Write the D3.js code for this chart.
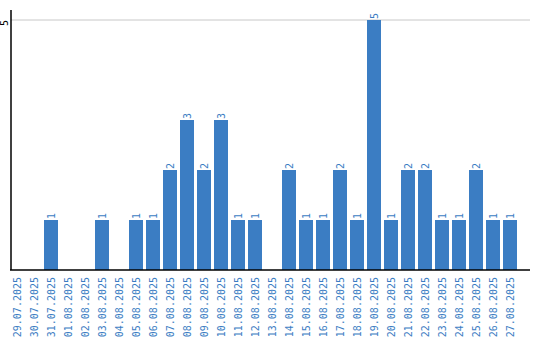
<!DOCTYPE html>
<html lang="en">
<head>
  <meta charset="UTF-8">
  <title>Chart</title>
  <script src="https://d3js.org/d3.v7.min.js"></script>
  <style>
    body { margin: 0; background: #fff; }
    text { font-family: "DejaVu Sans Mono", monospace; font-size: 10px; }
  </style>
</head>
<body>
  <div id="chart"></div>
  <script>
    const dates = [
      '29.07.2025', '30.07.2025', '31.07.2025', '01.08.2025', '02.08.2025',
      '03.08.2025', '04.08.2025', '05.08.2025', '06.08.2025', '07.08.2025',
      '08.08.2025', '09.08.2025', '10.08.2025', '11.08.2025', '12.08.2025',
      '13.08.2025', '14.08.2025', '15.08.2025', '16.08.2025', '17.08.2025',
      '18.08.2025', '19.08.2025', '20.08.2025', '21.08.2025', '22.08.2025',
      '23.08.2025', '24.08.2025', '25.08.2025', '26.08.2025', '27.08.2025'
    ];
    const counts = [0, 0, 1, 0, 0, 1, 0, 1, 1, 2, 3, 2, 3, 1, 1, 0, 2, 1, 1, 2, 1, 5, 1, 2, 2, 1, 1, 2, 1, 1];
    const yTicks = [5];

    const width = 540, height = 340;
    const blue = '#3b7dc3';

    const svg = d3.select('#chart').append('svg')
      .attr('width', width)
      .attr('height', height);

    const x = d3.scaleBand()
      .domain(dates)
      .range([8.5, 518.5])
      .paddingInner(3 / 17)
      .paddingOuter(1.5 / 17);

    const y = d3.scaleLinear()
      .domain([0, 5])
      .range([270, 20]);

    const rows = dates.map((d, i) => ({ date: d, v: counts[i] })).filter(d => d.v > 0);

    // grid lines
    svg.selectAll('.grid')
      .data(yTicks)
      .enter()
      .append('line')
      .attr('x1', 11).attr('x2', 530)
      .attr('y1', d => y(d)).attr('y2', d => y(d))
      .attr('stroke', '#c8c8c8')
      .attr('stroke-width', 1);

    // bars
    svg.selectAll('.bar')
      .data(rows)
      .enter()
      .append('rect')
      .attr('x', d => x(d.date))
      .attr('y', d => y(d.v))
      .attr('width', x.bandwidth())
      .attr('height', d => y(0) - y(d.v))
      .attr('fill', blue);

    // value labels
    svg.selectAll('.val')
      .data(rows)
      .enter()
      .append('text')
      .attr('transform', d => `translate(${x(d.date) + x.bandwidth() / 2 + 3.5},${y(d.v) - 1}) rotate(-90)`)
      .attr('text-anchor', 'start')
      .attr('fill', blue)
      .text(d => d.v);

    // y axis
    svg.append('line')
      .attr('x1', 11).attr('x2', 11)
      .attr('y1', 10).attr('y2', 270)
      .attr('stroke', '#000')
      .attr('stroke-width', 1.5);

    svg.selectAll('.ytick')
      .data(yTicks)
      .enter()
      .append('text')
      .attr('transform', d => `translate(7.5,${y(d) + 6}) rotate(-90)`)
      .attr('text-anchor', 'start')
      .attr('fill', '#000')
      .text(d => d);

    // x axis
    svg.append('line')
      .attr('x1', 10).attr('x2', 530)
      .attr('y1', 270).attr('y2', 270)
      .attr('stroke', '#000')
      .attr('stroke-width', 1.5);

    svg.selectAll('.xtick')
      .data(dates)
      .enter()
      .append('text')
      .attr('transform', d => `translate(${x(d) + x.bandwidth() / 2 + 3.5},277) rotate(-90)`)
      .attr('text-anchor', 'end')
      .attr('fill', blue)
      .text(d => d);
  </script>
</body>
</html>
